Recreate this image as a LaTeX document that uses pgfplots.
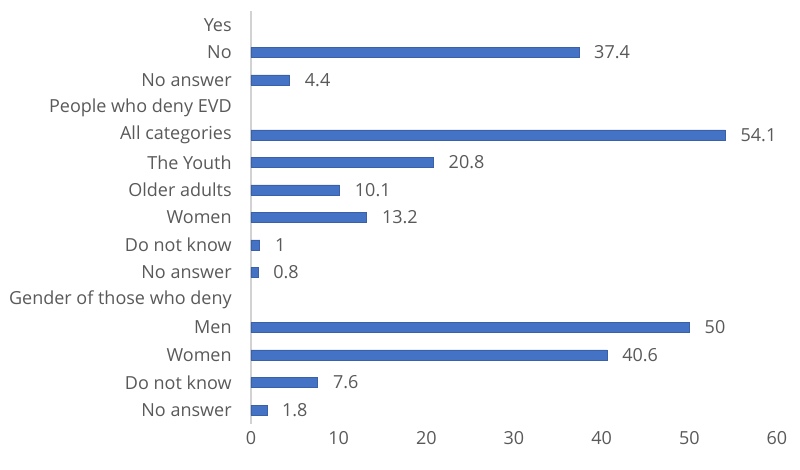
\documentclass[border=0pt]{standalone}
\usepackage{pgfplots}
\pgfplotsset{compat=1.18}
\usepackage{fontspec}
\setmainfont{Open Sans}
\definecolor{barblue}{HTML}{4472C4}
\definecolor{txt}{HTML}{595959}
\begin{document}
\begin{tikzpicture}
\useasboundingbox (0,0) rectangle (600pt,351.75pt);
\begin{axis}[
  at={(188.25pt,33.94pt)}, anchor=south west,
  scale only axis, width=394.5pt, height=309.4pt,
  xmin=0, xmax=60, ymin=-0.5, ymax=14.5, y dir=reverse,
  xbar, bar width=7.5pt,
  /pgf/number format/assume math mode=true,
  axis x line*=bottom, x axis line style={draw=none},
  axis y line*=left, y axis line style={draw=gray!35, line width=0.8pt},
  major tick length=0pt,
  xtick={0,10,...,60},
  ytick={0,...,14},
  yticklabels={Yes,No,No answer,People who deny EVD,All categories,The Youth,Older adults,Women,Do not know,No answer,Gender of those who deny,Men,Women,Do not know,No answer},
  tick label style={font=\fontsize{13.5}{16}\selectfont, text=txt},
  yticklabel style={xshift=-11pt},
  xticklabel style={yshift=-2pt},
  nodes near coords,
  nodes near coords style={font=\fontsize{13.5}{16}\selectfont, text=txt, anchor=west, xshift=8pt},
]
\addplot[fill=barblue, draw=barblue!85!black, line width=0.4pt] coordinates {
(37.4,1) (4.4,2) (54.1,4) (20.8,5) (10.1,6) (13.2,7) (1,8) (0.8,9) (50,11) (40.6,12) (7.6,13) (1.8,14)};
\end{axis}
\end{tikzpicture}
\end{document}
